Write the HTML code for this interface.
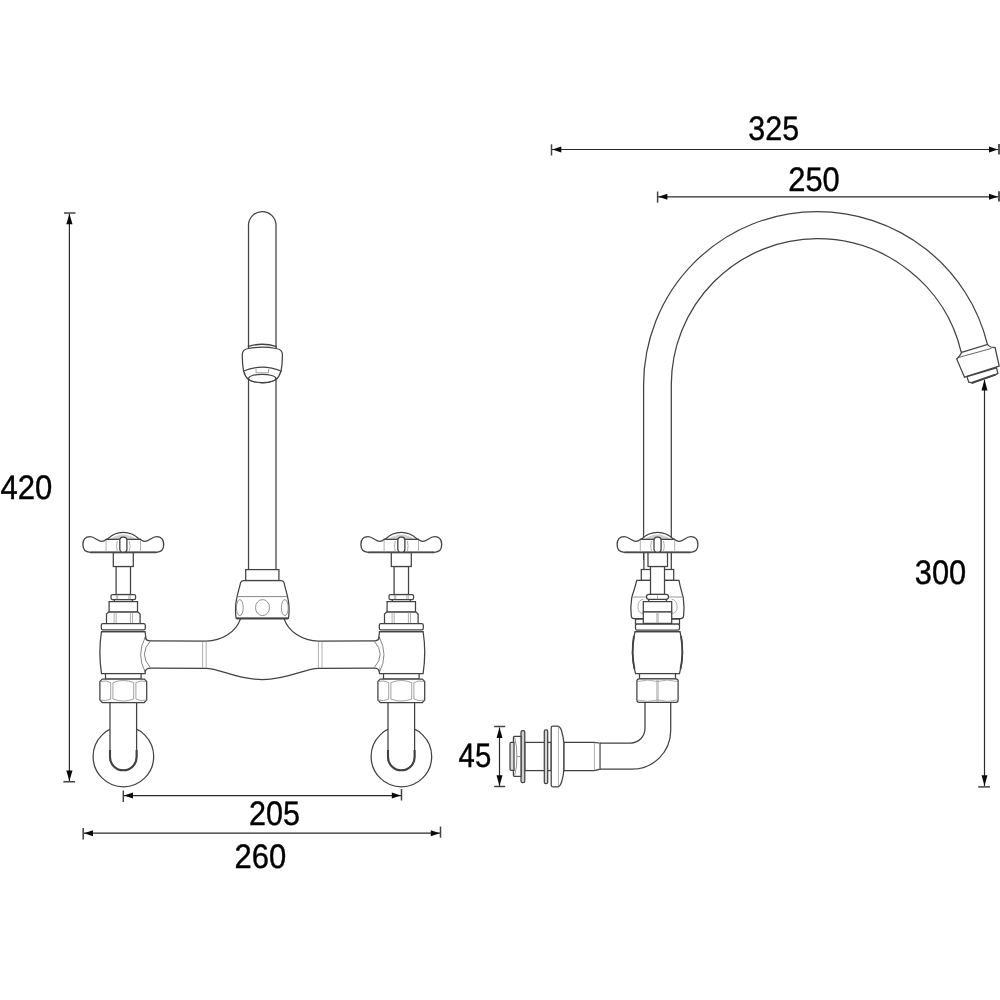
<!DOCTYPE html>
<html><head><meta charset="utf-8"><style>
html,body{margin:0;padding:0;background:#fff;}
svg{display:block;will-change:transform}
.o{fill:none;stroke:#424242;stroke-width:1.25}
.w{fill:#fff;stroke:#424242;stroke-width:1.25}
.f{fill:#fff;stroke:none}
.t{fill:none;stroke:#9c9c9c;stroke-width:0.8}
.d{fill:none;stroke:#2a2a2a;stroke-width:1.2}
.k{fill:none;stroke:#444;stroke-width:1.5}
.a{fill:#0a0a0a;stroke:none}
text{font-family:"Liberation Sans",sans-serif;font-size:34px;fill:#000;stroke:#000;stroke-width:0.4;text-rendering:geometricPrecision}
</style></head><body>
<svg width="1000" height="1000" viewBox="0 0 1000 1000">

<g transform="translate(123.3,0)">
<circle class="w" cx="0.1" cy="756.5" r="30.3"/>
<path class="w" d="M-13.3,702.6 V757 A13.3,13.3 0 0 0 13.3,757 V702.6"/>
<path class="o" style="stroke-width:2.1" d="M-13.3,750 V757 A13.3,13.3 0 0 0 13.3,757 V750"/>
</g>
<g transform="translate(401.3,0)">
<circle class="w" cx="0.1" cy="756.5" r="30.3"/>
<path class="w" d="M-13.3,702.6 V757 A13.3,13.3 0 0 0 13.3,757 V702.6"/>
<path class="o" style="stroke-width:2.1" d="M-13.3,750 V757 A13.3,13.3 0 0 0 13.3,757 V750"/>
</g>
<g transform="translate(123.3,0)">
<rect class="w" x="-7.2" y="566.5" width="14.4" height="28"/>
<rect class="w" x="-10" y="552.5" width="20" height="14"/>
<rect class="w" x="-9" y="599" width="18" height="2.8"/>
<rect class="w" x="-12.3" y="594.5" width="24.6" height="5" rx="1.6"/>
<path class="t" d="M-7,594.9v4.2 M-5.6,594.9v4.2 M5.6,594.9v4.2 M7,594.9v4.2"/>
<rect class="w" x="-14.2" y="601.6" width="28.4" height="10.4"/>
<path class="w" d="M-14.8,612 H14.8 L16.8,614 V623.6 H-16.8 V614 Z"/>
<path class="t" d="M-9.2,612.6v10.6 M-7.1,612.6v10.6 M7.1,612.6v10.6 M9.2,612.6v10.6"/>
<path class="w" d="M-21.8,631.5 C-23.9,645 -23.9,660 -21.8,673.6 H21.8 C23.9,660 23.9,645 21.8,631.5 Z"/>
<rect class="w" x="-22" y="623.6" width="44" height="6.2" rx="1.6"/>
<path class="o" d="M-21.8,631.5 H21.8"/>
<rect class="w" x="-17.8" y="673.6" width="35.6" height="5.4"/>
<path class="w" d="M-21,679 H21 L23.4,681.4 V700.1 L21,702.5 H-21 L-23.4,700.1 V681.4 Z"/>
<path class="t" style="stroke:#8a8a8a" d="M-12.6,682.6 V699 M-10.4,682.6 V699 M10.4,682.6 V699 M12.6,682.6 V699"/>
<path class="t" style="stroke:#8a8a8a" d="M-10.4,682.6 Q0,678.4 10.4,682.6 M-10.4,699 Q0,703.2 10.4,699 M-23,681.6 Q-17.5,679.8 -12.6,682.6 M23,681.6 Q17.5,679.8 12.6,682.6 M-23,700 Q-17.5,701.8 -12.6,699 M23,700 Q17.5,701.8 12.6,699"/>
</g>
<g transform="translate(401.3,0)">
<rect class="w" x="-7.2" y="566.5" width="14.4" height="28"/>
<rect class="w" x="-10" y="552.5" width="20" height="14"/>
<rect class="w" x="-9" y="599" width="18" height="2.8"/>
<rect class="w" x="-12.3" y="594.5" width="24.6" height="5" rx="1.6"/>
<path class="t" d="M-7,594.9v4.2 M-5.6,594.9v4.2 M5.6,594.9v4.2 M7,594.9v4.2"/>
<rect class="w" x="-14.2" y="601.6" width="28.4" height="10.4"/>
<path class="w" d="M-14.8,612 H14.8 L16.8,614 V623.6 H-16.8 V614 Z"/>
<path class="t" d="M-9.2,612.6v10.6 M-7.1,612.6v10.6 M7.1,612.6v10.6 M9.2,612.6v10.6"/>
<path class="w" d="M-21.8,631.5 C-23.9,645 -23.9,660 -21.8,673.6 H21.8 C23.9,660 23.9,645 21.8,631.5 Z"/>
<rect class="w" x="-22" y="623.6" width="44" height="6.2" rx="1.6"/>
<path class="o" d="M-21.8,631.5 H21.8"/>
<rect class="w" x="-17.8" y="673.6" width="35.6" height="5.4"/>
<path class="w" d="M-21,679 H21 L23.4,681.4 V700.1 L21,702.5 H-21 L-23.4,700.1 V681.4 Z"/>
<path class="t" style="stroke:#8a8a8a" d="M-12.6,682.6 V699 M-10.4,682.6 V699 M10.4,682.6 V699 M12.6,682.6 V699"/>
<path class="t" style="stroke:#8a8a8a" d="M-10.4,682.6 Q0,678.4 10.4,682.6 M-10.4,699 Q0,703.2 10.4,699 M-23,681.6 Q-17.5,679.8 -12.6,682.6 M23,681.6 Q17.5,679.8 12.6,682.6 M-23,700 Q-17.5,701.8 -12.6,699 M23,700 Q17.5,701.8 12.6,699"/>
</g>
<path class="f" d="M145,636.8 Q145.8,640.8 150.4,640.8 L206,641 C222,641 236,632 240.6,618.6 L284.0,618.6 C288.6,632 302.6,641 318.6,641 L374.2,640.8 Q378.8,640.8 379.6,636.8 L379.6,672.2 Q378.8,668.2 374.2,668.2 L318.6,668.4 C304.6,668.4 288.6,679.6 262.3,679.6 C236,679.6 220,668.4 206,668.4 L150.4,668.2 Q145.8,668.2 145,672.2 Z"/>
<path class="o" d="M145,636.8 Q145.8,640.8 150.4,640.8 L206,641 C222,641 236,632 240.6,618.6"/>
<path class="o" d="M379.6,636.8 Q378.8,640.8 374.2,640.8 L318.6,641 C302.6,641 288.6,632 284.0,618.6"/>
<path class="o" d="M145,672.2 Q145.8,668.2 150.4,668.2 L206,668.4 C220,668.4 236,679.6 262.3,679.6 C288.6,679.6 304.6,668.4 318.6,668.4 L374.2,668.2 Q378.8,668.2 379.6,672.2"/>
<path class="t" d="M202.6,641.5 V668"/>
<path class="t" d="M206.2,641.5 V668"/>
<path class="t" d="M322.0,641.5 V668"/>
<path class="t" d="M318.4,641.5 V668"/>
<path class="t" style="stroke:#777;stroke-width:0.9" d="M145.1,637.6 Q136.2,654.7 145,671.7 M150.4,641 Q138.5,654.2 150.2,667.4"/>
<path class="t" style="stroke:#777;stroke-width:0.9" d="M379.5,637.6 Q388.4,654.7 379.6,671.7 M374.2,641 Q386.1,654.2 374.4,667.4"/>
<path class="w" d="M248.5,570 V225.3 A13.75,13.75 0 0 1 276,225.3 V570"/>
<path class="w" d="M248.5,346.3 Q262.3,342.2 276,346.3 V348.5 C279.6,349 282.3,350.6 282.4,354.2 C282.5,360 282,366 281,371.4 L243.6,371.4 C242.6,366 242.2,360 242.3,354.2 C242.4,350.6 245,349 248.5,348.5 Z"/>
<path class="o" d="M248.5,348.5 Q262.3,345.6 276,348.5"/>
<path class="w" d="M243.6,371 C244.5,374.5 246,377.5 248.5,379.6 Q262.3,386 276,379.6 C278.5,377.5 280,374.5 281,371 Q262.3,363.2 243.6,371 Z"/>
<ellipse class="w" cx="262.2" cy="378.4" rx="13.6" ry="4.1"/>
<path class="t" style="stroke:#888" d="M256,369 V372.8 M268.5,369 V372.8 M256,372.8 H268.5"/>
<rect class="w" x="245.7" y="569.6" width="33.2" height="10.9"/>
<path class="w" d="M243.2,580.5 H281.4 Q283.4,580.5 284,582.6 C285.6,590 288.8,598 289,607 C289.2,612 289,615.8 288.4,618.4 H236.2 C235.6,615.8 235.4,612 235.6,607 C235.8,598 239,590 240.6,582.6 Q241.2,580.5 243.2,580.5 Z"/>
<path class="o" style="stroke-width:2" d="M236.6,618.4 H288"/>
<path class="t" style="stroke:#888;stroke-width:1" d="M237.6,596.6 H287"/>
<ellipse class="t" style="stroke:#777" cx="239.8" cy="607.6" rx="3.4" ry="8"/>
<ellipse class="t" style="stroke:#777" cx="262.5" cy="607.6" rx="7" ry="8"/>
<ellipse class="t" style="stroke:#777" cx="284.8" cy="607.6" rx="3.4" ry="8"/>
<g transform="translate(123.3,0)">
<path class="w" style="stroke-width:1.3" d="M-16.8,539.3 C-18.4,540.6 -19.8,541.4 -21.6,541.4 C-25.4,541.4 -28.6,536.7 -33.2,536.7 C-38.4,536.7 -40.4,539.6 -40.4,544.6 C-40.4,549.6 -38,552.3 -33,552.3 L33,552.3 C38,552.3 40.4,549.6 40.4,544.6 C40.4,539.6 38.4,536.7 33.2,536.7 C28.6,536.7 25.4,541.4 21.6,541.4 C19.8,541.4 18.4,540.6 16.8,539.3 L15.5,538.8 A22,22 0 0 0 -15.5,538.8 Z"/>
<path d="M-13.5,539.2 Q-6,534.6 0,534.6 Q6,534.6 13.5,539.2 Z" style="fill:#cfcfcf;stroke:none"/>
<path class="o" d="M-17.6,539.4 H17.6"/>
<path class="o" style="stroke-width:1.8;stroke:#4a4a4a" d="M-33,552.3 H33"/>
<path class="t" d="M-17.2,540 V552 M17.2,540 V552"/>
<path class="t" d="M-6,541 Q-7.6,546 -6,551.5 M6,541 Q7.6,546 6,551.5"/>
<rect class="w" x="-3.5" y="537.2" width="7.1" height="15" rx="3.2" style="stroke-width:1.3"/>
</g>
<g transform="translate(401.3,0)">
<path class="w" style="stroke-width:1.3" d="M-16.8,539.3 C-18.4,540.6 -19.8,541.4 -21.6,541.4 C-25.4,541.4 -28.6,536.7 -33.2,536.7 C-38.4,536.7 -40.4,539.6 -40.4,544.6 C-40.4,549.6 -38,552.3 -33,552.3 L33,552.3 C38,552.3 40.4,549.6 40.4,544.6 C40.4,539.6 38.4,536.7 33.2,536.7 C28.6,536.7 25.4,541.4 21.6,541.4 C19.8,541.4 18.4,540.6 16.8,539.3 L15.5,538.8 A22,22 0 0 0 -15.5,538.8 Z"/>
<path d="M-13.5,539.2 Q-6,534.6 0,534.6 Q6,534.6 13.5,539.2 Z" style="fill:#cfcfcf;stroke:none"/>
<path class="o" d="M-17.6,539.4 H17.6"/>
<path class="o" style="stroke-width:1.8;stroke:#4a4a4a" d="M-33,552.3 H33"/>
<path class="t" d="M-17.2,540 V552 M17.2,540 V552"/>
<path class="t" d="M-6,541 Q-7.6,546 -6,551.5 M6,541 Q7.6,546 6,551.5"/>
<rect class="w" x="-3.5" y="537.2" width="7.1" height="15" rx="3.2" style="stroke-width:1.3"/>
</g>
<path class="f" d="M643.6,560 V385 A173.4,173.4 0 0 1 817,211.6 A175.2,173.4 0 0 1 987.4,344.3 L987.6,344.5 L961.6,352.3 L961.1,351.8 A148,146.3 0 0 0 817,238.7 A146.3,146.3 0 0 0 671.3,385 V560 Z"/>
<path class="o" d="M643.6,560 V385 A173.4,173.4 0 0 1 817,211.6 A175.2,173.4 0 0 1 987.4,344.3 L987.6,344.5"/>
<path class="o" d="M671.3,560 V385 A146.3,146.3 0 0 1 817,238.7 A148,146.3 0 0 1 961.1,351.8 L961.6,352.3"/>
<path class="w" d="M961.6,352.3 L987.6,344.5 Q989,346.5 991,347 L995.1,347.6 L999.2,366.2 L964.5,377.2 L956.7,359 L958.8,356.8 Q960.8,354.5 961.6,352.3 Z"/>
<path class="o" style="stroke:#555;stroke-width:0.9" d="M958.8,357.4 L991.5,348.4"/>
<path class="w" d="M967,376.6 L968.7,382.2 L972.3,382.8 L995.7,374.6 L997.8,373.4 L996.5,367.8 Z"/>
<path class="o" style="stroke:#444;stroke-width:2" d="M971.5,383 L995.5,374.6"/>
<g transform="translate(657.5,0)">
<path class="w" d="M-13.6,552 V569.6 H13.8 V552"/>
<rect class="w" x="-16.2" y="569.5" width="32.4" height="10.9"/>
<path class="w" d="M-20.8,580.4 H21.5 C22.5,587 24.5,592 25.8,598 C26.6,604 26.6,612 26,616.4 Q25.6,618.6 23.4,618.6 H-23.6 Q-25.8,618.6 -26.2,616.4 C-26.8,612 -26.8,604 -25.8,598 C-24.5,592 -22,587 -20.8,580.4 Z"/>
<path class="t" style="stroke:#999;stroke-width:1" d="M-25.6,597 H25.6"/>
<path class="t" d="M-14,599.2 Q-19.6,600 -19.6,607 Q-19.6,613 -14,614 M14,599.2 Q19.6,600 19.6,607 Q19.6,613 14,614"/>
<rect class="w" x="-7" y="566.5" width="14" height="28"/>
<rect class="w" x="-9.5" y="552.3" width="19.5" height="14.2"/>
<rect class="w" x="-8.8" y="599" width="17.6" height="2.8"/>
<rect class="w" x="-11" y="594.4" width="22" height="5" rx="2.4"/>
<path class="t" d="M0,594.8v4.4"/>
<path class="w" d="M-22,619 H22 V624 H-22 Z"/>
<rect class="w" x="-14.2" y="601.6" width="28.4" height="10.4"/>
<rect class="w" x="-14.2" y="612" width="28.4" height="11.4"/>
<path class="t" d="M-0.6,612.4v10.6 M0.6,612.4v10.6"/>
<path class="w" d="M-22.5,631.5 C-25.9,645 -25.9,660 -22,673.6 H22 C25.9,660 25.9,645 22.5,631.5 Z"/>
<path class="o" style="stroke-width:1.8" d="M-23.6,636 C-25.4,648 -25.4,658 -23,669 M23.6,636 C25.4,648 25.4,658 23,669"/>
<rect class="w" x="-22" y="624" width="44" height="6" rx="1.6"/>
<path class="o" d="M-22.5,631.5 H22.5"/>
<rect class="w" x="-18" y="673.6" width="36" height="5.2"/>
</g>
<path class="w" d="M645,702 V728.4 A13,13 0 0 1 632,741.4 H600 V769.2 H632 A38.7,38.7 0 0 0 670.7,730.5 V702 Z" style="stroke:none"/>
<path class="o" d="M645,702 V728.6 A14.4,14.4 0 0 1 630.6,743 H600"/>
<path class="o" d="M670.7,702 V730.6 A38.6,38.6 0 0 1 632.1,769.2 H600"/>
<g transform="translate(657.5,0)">
<rect class="w" x="-20.6" y="678.8" width="41.2" height="23.6" rx="2.4"/>
<path class="t" d="M-0.6,679.6 V701.6 M0.6,679.6 V701.6 M-19.6,681.5 Q-10,678.6 0,681.5 Q10,678.6 19.6,681.5 M-19.6,700 Q-10,702.8 0,700 Q10,702.8 19.6,700"/>
</g>
<path class="w" d="M563.8,742.4 H594.4 L600,743.2 V769.2 L594.4,770.6 H563.8 Z"/>
<path class="t" d="M594.4,742.6 V770.4 M599.6,743.2 V769.2"/>
<rect class="w" x="524.8" y="742.4" width="26.4" height="28.2"/>
<path class="w" d="M553,726.2 H557.6 Q560.2,726.4 561.6,731 Q563.4,737 563.8,742.4 V770.6 Q563.4,776 561.6,782 Q560.2,786.6 557.6,786.8 H553 Q551.2,786.8 551.2,785 V728 Q551.2,726.2 553,726.2 Z"/>
<path class="t" d="M558.4,727 V786"/>
<rect class="w" style="fill:#d4d4d4" x="544.3" y="729.8" width="3.4" height="53.8" rx="1.4"/>
<rect class="w" style="fill:#cfcfcf" x="521" y="730.6" width="3.8" height="52" rx="1.6"/>
<path class="w" d="M514.4,736.4 H521 V776.4 H514.4 Q513.4,776.4 513.4,775.2 V737.6 Q513.4,736.4 514.4,736.4 Z"/>
<path class="w" style="fill:#dadada" d="M511.2,742.4 H514 V770.4 H511.2 Q510,770.4 510,769 V743.8 Q510,742.4 511.2,742.4 Z"/>
<path class="t" style="stroke:#777" d="M514.6,737.4 Q517.4,747 516.8,756.6 Q517.4,766 514.6,775.6 M516.8,756.6 H521"/>
<g transform="translate(657.5,0)">
<path class="w" style="stroke-width:1.3" d="M-16.8,539.3 C-18.4,540.6 -19.8,541.4 -21.6,541.4 C-25.4,541.4 -28.6,536.7 -33.2,536.7 C-38.4,536.7 -40.4,539.6 -40.4,544.6 C-40.4,549.6 -38,552.3 -33,552.3 L33,552.3 C38,552.3 40.4,549.6 40.4,544.6 C40.4,539.6 38.4,536.7 33.2,536.7 C28.6,536.7 25.4,541.4 21.6,541.4 C19.8,541.4 18.4,540.6 16.8,539.3 L15.5,538.8 A22,22 0 0 0 -15.5,538.8 Z"/>
<path d="M-13.5,539.2 Q-6,534.6 0,534.6 Q6,534.6 13.5,539.2 Z" style="fill:#cfcfcf;stroke:none"/>
<path class="o" d="M-17.6,539.4 H17.6"/>
<path class="o" style="stroke-width:1.8;stroke:#4a4a4a" d="M-33,552.3 H33"/>
<path class="t" d="M-17.2,540 V552 M17.2,540 V552"/>
<path class="t" d="M-6,541 Q-7.6,546 -6,551.5 M6,541 Q7.6,546 6,551.5"/>
<rect class="w" x="-3.5" y="537.2" width="7.1" height="15" rx="3.2" style="stroke-width:1.3"/>
</g>
<path class="d" d="M69.4,214 V781"/>
<path class="k" d="M64,212.9 H75.5 M63.4,781.7 H75.1"/>
<path class="a" d="M69.4,213.8 L72.50,224.30 L66.30,224.30 Z"/>
<path class="a" d="M69.4,781 L66.30,770.50 L72.50,770.50 Z"/>
<path class="d" d="M124,795.6 H401"/>
<path class="k" d="M123.3,790.4 V802 M401.5,789 V800.6"/>
<path class="a" d="M124,795.6 L133.00,792.60 L133.00,798.60 Z"/>
<path class="a" d="M400.8,795.6 L391.80,798.60 L391.80,792.60 Z"/>
<path class="d" d="M84,833.2 H440"/>
<path class="k" d="M83.2,828 V839.4 M440.5,826.4 V837.8"/>
<path class="a" d="M84,833.2 L93.00,830.20 L93.00,836.20 Z"/>
<path class="a" d="M439.8,833.2 L430.80,836.20 L430.80,830.20 Z"/>
<path class="d" d="M552,149.5 H998"/>
<path class="k" d="M551.5,144.3 V155.5"/>
<path d="M999,144 V154.6" style="stroke:#555;stroke-width:2"/>
<path class="a" d="M552.3,149.5 L561.30,146.50 L561.30,152.50 Z"/>
<path class="a" d="M998,149.5 L989.00,152.50 L989.00,146.50 Z"/>
<path class="d" d="M658,196.8 H998"/>
<path class="k" d="M657.6,191.5 V202.7"/>
<path d="M999,191.2 V201.4" style="stroke:#555;stroke-width:2"/>
<path class="a" d="M658.4,196.8 L667.40,193.80 L667.40,199.80 Z"/>
<path class="a" d="M998,196.8 L989.00,199.80 L989.00,193.80 Z"/>
<path class="d" d="M984.5,380 V786"/>
<path class="k" d="M978.2,786.9 H990"/>
<path class="a" d="M984.5,379.6 L987.50,390.40 L981.50,390.40 Z"/>
<path class="a" d="M984.5,785.8 L981.50,775.30 L987.50,775.30 Z"/>
<path class="d" d="M499.5,727.5 V786"/>
<path class="k" d="M494.2,726.4 H505.2 M494.2,786.6 H505.2"/>
<path class="a" d="M499.5,727.4 L502.50,738.00 L496.50,738.00 Z"/>
<path class="a" d="M499.5,786 L496.50,775.20 L502.50,775.20 Z"/>
<text transform="translate(0.38,498.5) scale(0.913,1)">420</text>
<text transform="translate(248.97,824.5) scale(0.899,1)">205</text>
<text transform="translate(234.45,867.5) scale(0.912,1)">260</text>
<text transform="translate(748.28,139.5) scale(0.895,1)">325</text>
<text transform="translate(788.26,190.8) scale(0.908,1)">250</text>
<text transform="translate(914.77,583.7) scale(0.906,1)">300</text>
<text transform="translate(458.61,767.2) scale(0.863,1)">45</text>
</svg></body></html>
